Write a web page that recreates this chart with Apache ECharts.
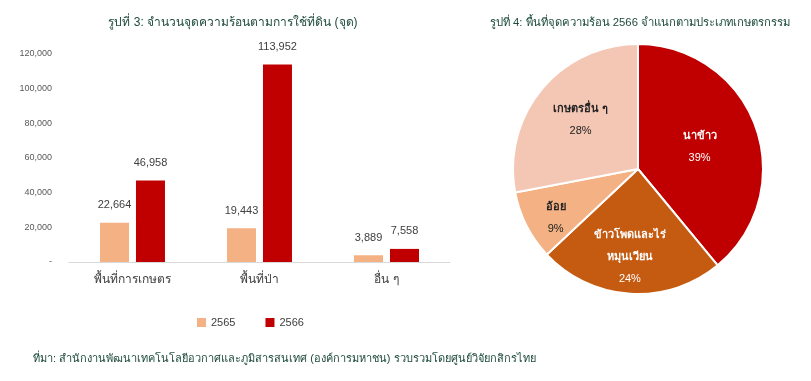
<!DOCTYPE html>
<html><head><meta charset="utf-8">
<script src="https://cdn.jsdelivr.net/npm/echarts@6/dist/echarts.min.js"></script>
<style>html,body{margin:0;padding:0;background:#fff}#c{width:811px;height:381px}</style>
</head><body><div id="c"></div>
<script>
const categories = ['พื้นที่การเกษตร', 'พื้นที่ป่า', 'อื่น ๆ'];
const values2565 = [22664, 19443, 3889];
const values2566 = [46958, 113952, 7558];
const seriesNames = ['2565', '2566'];
const yTicks = [0, 20000, 40000, 60000, 80000, 100000, 120000];
const pieNames = ['นาข้าว', 'ข้าวโพดและไร่\nหมุนเวียน', 'อ้อย', 'เกษตรอื่น ๆ'];
const pieValues = [39, 24, 9, 28];
const pieColors = ['#C00000', '#C55A11', '#F4B183', '#F4C6B4'];
const pieLabelColors = ['#fff', '#fff', '#222', '#222'];
// label nudges (manual placements in the original)
const pieLabelShift = [[0, 0], [-4, 23], [-24, 19], [-7, -7]];

const font = 'Arial, "Liberation Sans", "Noto Sans", sans-serif';
const chart = echarts.init(document.getElementById('c'));
chart.setOption({
  animation: false,
  textStyle: {fontFamily: font},
  title: [
    {text: 'รูปที่ 3: จำนวนจุดความร้อนตามการใช้ที่ดิน (จุด)', left: 233, top: 17, textAlign: 'center', padding: 0,
     textStyle: {fontSize: 12, fontWeight: 'normal', color: '#1E4B3C', fontFamily: font}},
    {text: 'รูปที่ 4: พื้นที่จุดความร้อน 2566 จำแนกตามประเภทเกษตรกรรม', left: 640, top: 17, textAlign: 'center', padding: 0,
     textStyle: {fontSize: 11.3, fontWeight: 'normal', color: '#1E4B3C', fontFamily: font}},
    {text: 'ที่มา: สำนักงานพัฒนาเทคโนโลยีอวกาศและภูมิสารสนเทศ (องค์การมหาชน) รวบรวมโดยศูนย์วิจัยกสิกรไทย', left: 33, top: 353, padding: 0,
     textStyle: {fontSize: 11, fontWeight: 'normal', color: '#1E4B3C', fontFamily: font}}
  ],
  legend: {
    data: seriesNames, left: 192, top: 312, itemWidth: 9, itemHeight: 9, itemGap: 30, icon: 'rect',
    textStyle: {fontSize: 11, color: '#404040'}
  },
  grid: {left: 69, right: 361, top: 54, bottom: 119, containLabel: false},
  xAxis: {
    type: 'category', data: categories,
    axisLine: {lineStyle: {color: '#D9D9D9'}}, axisTick: {show: false},
    axisLabel: {fontSize: 12, color: '#404040', margin: 12}
  },
  yAxis: {
    type: 'value', min: 0, max: 120000, interval: 20000,
    splitLine: {show: false}, axisLine: {show: false}, axisTick: {show: false},
    axisLabel: {fontSize: 9, color: '#595959', margin: 17,
      formatter: v => v === 0 ? '-' : v.toLocaleString('en-US')}
  },
  series: [
    {name: seriesNames[0], type: 'bar', data: values2565, barWidth: 29, barGap: '24%',
     itemStyle: {color: '#F4B183'},
     label: {show: true, position: 'top', distance: 12, fontSize: 11, color: '#404040',
       formatter: p => p.value.toLocaleString('en-US')}},
    {name: seriesNames[1], type: 'bar', data: values2566, barWidth: 29,
     itemStyle: {color: '#C00000'},
     label: {show: true, position: 'top', distance: 12, fontSize: 11, color: '#404040',
       formatter: p => p.value.toLocaleString('en-US')}},
    {type: 'pie', center: [638, 169], radius: [0, 125], startAngle: 90, clockwise: true,
     data: pieNames.map((n, i) => ({name: n, value: pieValues[i],
       itemStyle: {color: pieColors[i]},
       label: {color: pieLabelColors[i]}})),
     itemStyle: {borderColor: '#fff', borderWidth: 2},
     label: {show: true, position: 'inside', fontSize: 11, lineHeight: 22,
       formatter: p => '{n|' + p.name.split('\n').join('}\n{n|') + '}\n' + p.percent.toFixed(0) + '%',
       rich: {n: {fontSize: 11, fontWeight: 'bold', lineHeight: 22}}},
     labelLayout: p => p.seriesIndex === 2 ? {dx: pieLabelShift[p.dataIndex][0], dy: pieLabelShift[p.dataIndex][1]} : {},
     labelLine: {show: false}, emphasis: {disabled: true}}
  ]
});
</script></body></html>
